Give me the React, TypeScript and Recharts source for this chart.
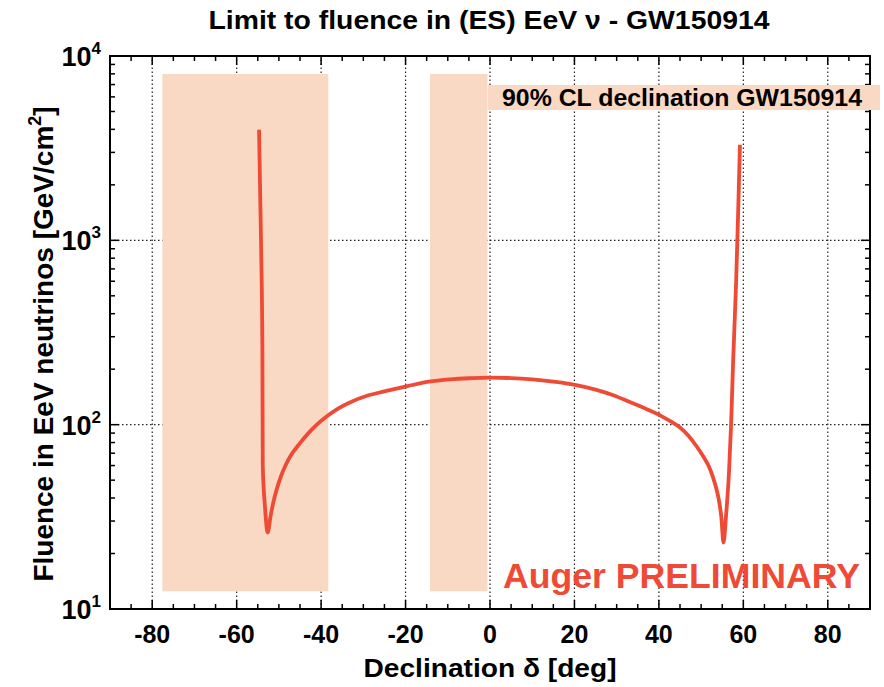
import { ComposedChart, Line, XAxis, YAxis, ReferenceArea, ReferenceLine } from "recharts";

const declination = [
  -54.7, -54.2, -53.9, -53.82, -53.3, -52.65, -52.0, -51.3, -50.5, -49.5, -48.3, -47, -45, -43, -41,
  -38.4, -35.8, -33.2, -29.3, -25.3, -19.5, -14.5, -9.5, -4.8, -0.2, 5, 10, 15, 20.4, 25, 29.2, 33, 37,
  40.7, 43, 45, 47, 49, 50.6, 51.8, 52.8, 53.7, 54.3, 54.8, 55.3, 55.9, 56.6, 57.1, 57.6, 58.3, 58.8, 59.2,
];
const fluence = [
  3980, 900, 240, 60, 36, 26, 31.6, 38, 44.7, 52.5, 61, 69, 79.4, 90, 100,
  112, 123, 132, 143, 151, 162, 171, 176, 178.6, 180, 179, 176, 171, 164, 155, 144.5, 133, 121.6,
  111, 103.5, 96.6, 87.1, 75.9, 66.8, 59.6, 51.9, 44.2, 38, 31.3, 22.9, 32, 55, 100, 226, 600, 1500, 3300,
];

const xTicks = [
  -90, -85, -80, -75, -70, -65, -60, -55, -50, -45, -40, -35, -30, -25, -20, -15, -10, -5, 0,
  5, 10, 15, 20, 25, 30, 35, 40, 45, 50, 55, 60, 65, 70, 75, 80, 85, 90,
];
const xMajor = [-80, -60, -40, -20, 0, 20, 40, 60, 80];
const yTicks = [
  10, 20, 30, 40, 50, 60, 70, 80, 90, 100, 200, 300, 400, 500, 600, 700, 800, 900,
  1000, 2000, 3000, 4000, 5000, 6000, 7000, 8000, 9000, 10000,
];
const yPowers = [10, 100, 1000, 10000];
const yGrid = [100, 1000];

const bandStart = [-77.6, -14.2];
const bandEnd = [-38.3, -0.6];
const bandLow = 12.5;
const bandHigh = 7980;

const data = declination.map((d, i) => ({ dec: d, flu: fluence[i] }));

const FONT = '"Liberation Sans", Arial, Helvetica, sans-serif';
const RED = "#ee4a35";
const BAND = "#f9d9c4";
const GRID_DASH = "1.5 2.5";

function BottomTick(props: any) {
  const { x, y, payload } = props;
  const v = payload.value;
  const major = xMajor.includes(v);
  return (
    <g>
      <line x1={x} y1={y} x2={x} y2={y - (major ? 9 : 5)} stroke="#000" strokeWidth={1.5} />
      {major && (
        <text x={x} y={y + 34} textAnchor="middle" fontFamily={FONT} fontWeight="bold" fontSize={25} fill="#000">
          {String(v)}
        </text>
      )}
    </g>
  );
}

function TopTick(props: any) {
  const { x, y, payload } = props;
  const major = xMajor.includes(payload.value);
  return <line x1={x} y1={y} x2={x} y2={y + (major ? 9 : 5)} stroke="#000" strokeWidth={1.5} />;
}

function LeftTick(props: any) {
  const { x, y, payload } = props;
  const v = payload.value;
  const idx = yPowers.indexOf(v);
  const major = idx >= 0;
  return (
    <g>
      <line x1={x} y1={y} x2={x + (major ? 9 : 5)} y2={y} stroke="#000" strokeWidth={1.5} />
      {major && (
        <text x={x - 9} y={y + 10} textAnchor="end" fontFamily={FONT} fontWeight="bold" fontSize={27} fill="#000">
          10
          <tspan dy={-12} fontSize={17}>
            {String(idx + 1)}
          </tspan>
        </text>
      )}
    </g>
  );
}

function RightTick(props: any) {
  const { x, y, payload } = props;
  const major = yPowers.includes(payload.value);
  return <line x1={x} y1={y} x2={x - (major ? 9 : 5)} y2={y} stroke="#000" strokeWidth={1.5} />;
}

export default function App() {
  return (
    <div style={{ position: "absolute", left: 0, top: 0, width: 884, height: 687, background: "#fff" }}>
      <ComposedChart width={884} height={687} data={data} margin={{ top: 55, right: 13, bottom: 0, left: 0 }}>
        <XAxis
          xAxisId="main"
          dataKey="dec"
          type="number"
          domain={[-90, 90]}
          ticks={xTicks}
          interval={0}
          height={78}
          tickSize={0}
          tickMargin={0}
          tickLine={false}
          axisLine={false}
          tick={<BottomTick />}
          allowDataOverflow
        />
        <XAxis
          xAxisId="top"
          orientation="top"
          dataKey="dec"
          type="number"
          domain={[-90, 90]}
          ticks={xTicks}
          interval={0}
          height={1}
          tickSize={0}
          tickMargin={0}
          tickLine={false}
          axisLine={false}
          tick={<TopTick />}
          allowDataOverflow
        />
        <YAxis
          yAxisId="main"
          type="number"
          scale="log"
          domain={[10, 10000]}
          ticks={yTicks}
          interval={0}
          width={110}
          tickSize={0}
          tickMargin={0}
          tickLine={false}
          axisLine={false}
          tick={<LeftTick />}
          allowDataOverflow
        />
        <YAxis
          yAxisId="right"
          orientation="right"
          type="number"
          scale="log"
          domain={[10, 10000]}
          ticks={yTicks}
          interval={0}
          width={1}
          tickSize={0}
          tickMargin={0}
          tickLine={false}
          axisLine={false}
          tick={<RightTick />}
          allowDataOverflow
        />
        {xMajor.map((v) => (
          <ReferenceLine
            key={`gx${v}`}
            xAxisId="main"
            yAxisId="main"
            x={v}
            stroke="#222"
            strokeWidth={1.2}
            strokeDasharray={GRID_DASH}
            zIndex={-100}
          />
        ))}
        {yGrid.map((v) => (
          <ReferenceLine
            key={`gy${v}`}
            xAxisId="main"
            yAxisId="main"
            y={v}
            stroke="#222"
            strokeWidth={1.2}
            strokeDasharray={GRID_DASH}
            zIndex={-100}
          />
        ))}
        {bandStart.map((s, i) => (
          <ReferenceArea
            key={`band${i}`}
            xAxisId="main"
            yAxisId="main"
            x1={s}
            x2={bandEnd[i]}
            y1={bandLow}
            y2={bandHigh}
            fill={BAND}
            fillOpacity={1}
            stroke="none"
            zIndex={-50}
          />
        ))}
        <Line
          xAxisId="main"
          yAxisId="main"
          type="monotone"
          dataKey="flu"
          stroke={RED}
          strokeWidth={3.8}
          dot={false}
          isAnimationActive={false}
        />
        <ReferenceArea
          xAxisId="main"
          yAxisId="main"
          x1={-90}
          x2={90}
          y1={10}
          y2={10000}
          fill="none"
          fillOpacity={0}
          stroke="#000"
          strokeWidth={2}
          zIndex={600}
        />
      </ComposedChart>
      <svg width={884} height={687} style={{ position: "absolute", left: 0, top: 0, pointerEvents: "none" }}>
        <text x={489} y={29} textAnchor="middle" fontFamily={FONT} fontWeight="bold" fontSize={26} textLength={561} lengthAdjust="spacingAndGlyphs" fill="#000">
          Limit to fluence in (ES) EeV ν - GW150914
        </text>
        <rect x={488} y={85} width={392} height={25} fill={BAND} />
        <text x={502} y={106} fontFamily={FONT} fontWeight="bold" fontSize={24} textLength={360} lengthAdjust="spacingAndGlyphs" fill="#000">
          90% CL declination GW150914
        </text>
        <text x={503} y={588} fontFamily={FONT} fontWeight="bold" fontSize={35} textLength={357} lengthAdjust="spacingAndGlyphs" fill={RED}>
          Auger PRELIMINARY
        </text>
        <text x={490} y={677} textAnchor="middle" fontFamily={FONT} fontWeight="bold" fontSize={26} textLength={253} lengthAdjust="spacingAndGlyphs" fill="#000">
          Declination δ [deg]
        </text>
        <text
          x={0}
          y={0}
          transform="translate(53, 344) rotate(-90)"
          textAnchor="middle"
          fontFamily={FONT}
          fontWeight="bold"
          fontSize={28}
          fill="#000"
        >
          Fluence in EeV neutrinos [GeV/cm
          <tspan dy={-12} fontSize={18}>2</tspan>
          <tspan dy={12}>]</tspan>
        </text>
      </svg>
    </div>
  );
}
